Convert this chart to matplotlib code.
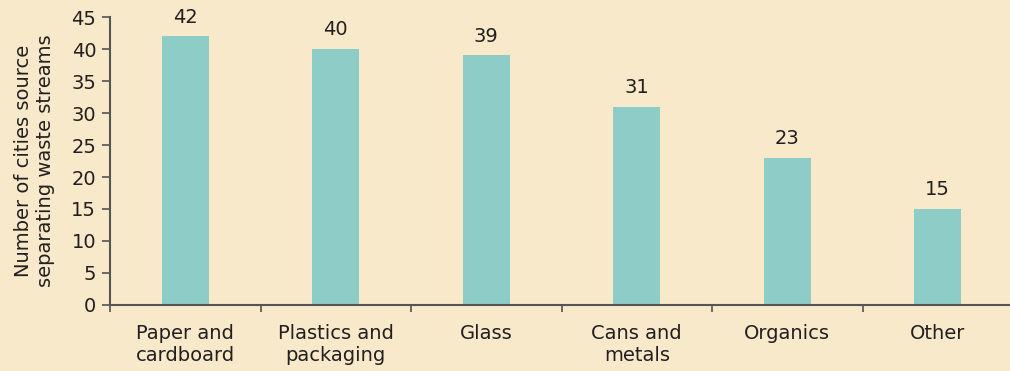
import numpy as np
import matplotlib.pyplot as plt
from matplotlib.ticker import FixedLocator

# Data
categories = ["Paper and\ncardboard", "Plastics and\npackaging", "Glass",
              "Cans and\nmetals", "Organics", "Other"]
values = [42, 40, 39, 31, 23, 15]
y_ticks = list(range(0, 50, 5))

bg = "#F8E9CB"
bar_color = "#8ECCC8"
text_color = "#231F20"
axis_color = "#555555"

plt.rcParams['font.family'] = ['DejaVu Sans']
fs = 14

fig = plt.figure(figsize=(10.1, 3.71), dpi=100, facecolor=bg)
ax = fig.add_axes([0.109, 0.178, 0.891, 0.776])
ax.set_facecolor(bg)

x = np.arange(len(categories))
bars = ax.bar(x, values, width=0.31, color=bar_color, zorder=2)
ax.bar_label(bars, labels=[str(v) for v in values], padding=7,
             fontsize=fs, color=text_color)

ax.set_xlim(-0.5, len(categories) - 0.52)
ax.set_ylim(0, 45)
ax.set_yticks(y_ticks)
ax.set_xticks(x)
ax.set_xticklabels(categories, fontsize=fs, color=text_color, linespacing=1.2)
ax.xaxis.set_minor_locator(FixedLocator(np.arange(-0.5, len(categories), 1.0)))
ax.tick_params(axis='x', which='major', length=0, pad=14)
ax.tick_params(axis='x', which='minor', length=5, width=1.2, color=axis_color,
               direction='out')
ax.tick_params(axis='y', length=6, width=1.2, color=axis_color,
               labelsize=fs, labelcolor=text_color, pad=4)

for side in ['top', 'right']:
    ax.spines[side].set_visible(False)
for side in ['left', 'bottom']:
    ax.spines[side].set_color(axis_color)
    ax.spines[side].set_linewidth(1.5)

ax.set_ylabel("Number of cities source\nseparating waste streams",
              fontsize=fs, color=text_color, labelpad=12, linespacing=1.2)

fig.savefig("out.png", dpi=100, facecolor=bg)
